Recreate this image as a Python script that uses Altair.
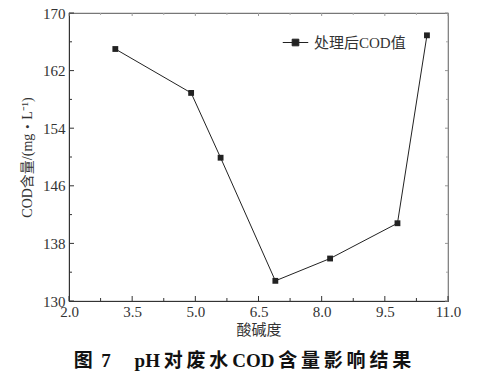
import altair as alt
import pandas as pd

ph = [3.1, 4.9, 5.6, 6.9, 8.2, 9.8, 10.5]
cod = [165.0, 158.9, 149.9, 132.8, 135.9, 140.8, 166.9]
series_name = "处理后COD值"

x_major = [2.0, 3.5, 5.0, 6.5, 8.0, 9.5, 11.0]
x_minor = [2.75, 4.25, 5.75, 7.25, 8.75, 10.25]
y_major = [130, 138, 146, 154, 162, 170]
y_minor = [134, 142, 150, 158, 166]

T = "\u2009"
fig_title = "图" + T + " 7" + "\u2003 " + "pH" + T + T.join("对废水") + T + "COD" + T + T.join("含量影响结果")

W, H = 379, 288
SERIF = "Liberation Serif, Noto Sans CJK SC"
AX = "#333333"

df = pd.DataFrame({"ph": ph, "cod": cod, "s": [series_name] * len(ph)})
xs = alt.Scale(domain=[2, 11], nice=False, zero=False)
ys = alt.Scale(domain=[130, 170], nice=False, zero=False)

legend_path = "M-1,0L1,0M-0.26,-0.26L0.26,-0.26L0.26,0.26L-0.26,0.26Z"

x_axis = alt.Axis(values=x_major, format=".1f", title="酸碱度", ticks=False, tickSize=0,
                  grid=False, domainColor=AX, labelFont=SERIF, labelFontSize=15,
                  labelColor=AX, labelPadding=3, titleFont=SERIF, titleFontSize=15,
                  titleColor=AX, titleFontWeight="normal", titlePadding=3, labelFlush=False)
y_axis = alt.Axis(values=y_major, format="d", title="COD含量/(mg・L⁻¹)", ticks=False, tickSize=0,
                  grid=False, domainColor=AX, labelFont=SERIF, labelFontSize=15,
                  labelColor=AX, labelPadding=4, titleFont=SERIF, titleFontSize=14,
                  titleColor=AX, titleFontWeight="normal", titlePadding=8, labelFlush=False)

line = alt.Chart(df).mark_line(color="#222222", strokeWidth=1).encode(
    x=alt.X("ph:Q", scale=xs, axis=x_axis),
    y=alt.Y("cod:Q", scale=ys, axis=y_axis),
)
pts = alt.Chart(df).mark_point(shape="square", size=34, filled=True, opacity=1).encode(
    x=alt.X("ph:Q", scale=xs),
    y=alt.Y("cod:Q", scale=ys),
    color=alt.Color("s:N", scale=alt.Scale(range=["#222222"]),
                    legend=alt.Legend(title=None, orient="none", legendX=213, legendY=16,
                                      symbolType=legend_path, symbolSize=650,
                                      symbolStrokeWidth=1, symbolFillColor="#222222",
                                      symbolStrokeColor="#222222",
                                      labelFont=SERIF, labelFontSize=15, labelColor=AX,
                                      labelOffset=5)),
)

xmaj = pd.DataFrame({"v": x_major})
xmin = pd.DataFrame({"v": x_minor})
ymaj = pd.DataFrame({"v": y_major})
ymin = pd.DataFrame({"v": y_minor})

def xticks(d, y1, y2, color):
    return alt.Chart(d).mark_rule(color=color, strokeWidth=1).encode(
        x=alt.X("v:Q", scale=xs), y=alt.value(y1), y2=alt.value(y2))

def yticks(d, x1, x2, color):
    return alt.Chart(d).mark_rule(color=color, strokeWidth=1).encode(
        y=alt.Y("v:Q", scale=ys), x=alt.value(x1), x2=alt.value(x2))

ticks = [
    xticks(xmaj, H, H - 5, AX), xticks(xmin, H, H - 3, AX),
    xticks(xmaj, 0, 3, "#999999"), xticks(xmin, 0, 2, "#aaaaaa"),
    yticks(ymaj, 0, 5, AX), yticks(ymin, 0, 3, AX),
    yticks(ymaj, W, W - 3, "#999999"), yticks(ymin, W, W - 2, "#aaaaaa"),
]

chart = alt.layer(line, pts, *ticks).properties(
    width=W, height=H,
    title=alt.TitleParams(fig_title, orient="bottom", anchor="middle",
                          font=SERIF, fontSize=19, fontWeight="bold", color="#111111",
                          offset=15, dx=-16),
    autosize=alt.AutoSizeParams(type="none"),
    padding={"left": 61, "top": 5, "right": 25, "bottom": 72},
).configure_view(stroke="#777777", strokeWidth=1.2)

chart.save("out.html", embed_options={"renderer": "svg", "actions": False})
